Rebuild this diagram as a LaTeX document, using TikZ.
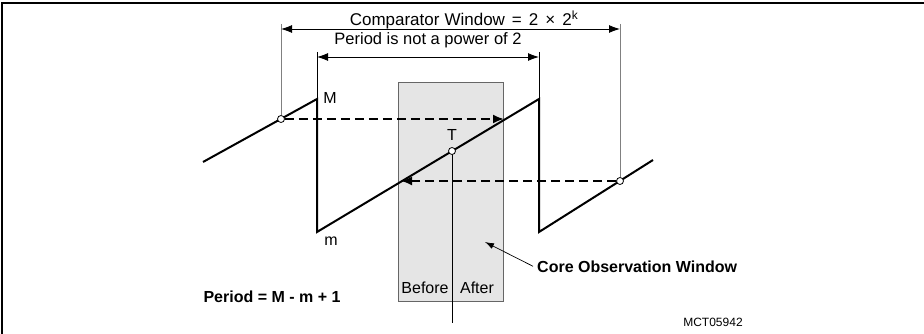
\documentclass[tikz,border=0pt]{standalone}
\usepackage{fontspec}
\setmainfont{Liberation Sans}
\usetikzlibrary{arrows.meta,positioning,calc}

\begin{document}
\begin{tikzpicture}[
    x=1pt, y=-1pt,
    txt/.style={font=\fontsize{16}{19}\selectfont, inner sep=0pt, anchor=base},
    boldtxt/.style={font=\fontsize{16}{19}\selectfont\bfseries, inner sep=0pt, anchor=base},
    saw/.style={line width=2pt, line join=miter},
    dimline/.style={line width=0.9pt, {Latex[length=11pt,width=8pt]}-{Latex[length=11pt,width=8pt]}},
    extline/.style={line width=0.9pt, draw=black!50},
    dasharrow/.style={line width=2pt, dash pattern=on 9pt off 5pt, -{Latex[length=11pt,width=9pt]}},
    probe/.style={circle, draw, fill=white, line width=0.8pt, inner sep=0pt, minimum size=7pt},
    winbox/.style={draw=black!60, fill=black!10, line width=0.9pt}
]
\useasboundingbox (0,0) rectangle (924,334);

% frame
\draw[line width=2pt] (2,334) -- (2,3) -- (924,3);

% core observation window
\draw[winbox] (398,82) rectangle (503,301);

% sawtooth points
\coordinate (s0) at (203,162);
\coordinate (sM) at (317,99);
\coordinate (sm) at (317,232);
\coordinate (s2) at (539,99);
\coordinate (s3) at (539,232);
\coordinate (s4) at (653,160);
\coordinate (tfoot) at (452,323);
\coordinate (hitR) at (504,119);
\coordinate (hitL) at (401,181);

\draw[line width=0.9pt] (452,151) -- (tfoot);
\draw[saw] (s0) -- (sM) -- (sm) -- (s2) -- (s3) -- (s4);

\node[probe] (pL) at (281,119) {};
\node[probe] (pR) at (620,181) {};
\node[probe] (pT) at (452,151) {};

\draw[dasharrow] (pL) -- (hitR);
\draw[dasharrow] (pR) -- (hitL);

% extension lines
\coordinate (cwL) at (281,24);
\coordinate (cwR) at (620,24);
\coordinate (pwL) at (317,52);
\coordinate (pwR) at (539,52);
\draw[extline] (cwL) -- (pL);
\draw[extline] (cwR) -- (pR);
\draw[line width=0.9pt] (pwL) -- (sM);
\draw[line width=0.9pt] (pwR) -- (s2);

% dimensions
\draw[dimline] ($(cwL)+(0,5)$) -- ($(cwR)+(0,5)$);
\draw[dimline] ($(pwL)+(0,5)$) -- ($(pwR)+(0,5)$);

\node[txt, font=\fontsize{17}{20}\selectfont] (cwtxt) at (464,26)
  {Comparator\hspace{5pt}Window\hspace{7pt}=\hspace{7pt}2\hspace{7pt}×\hspace{7pt}2\textsuperscript{k}};
\node[txt, font=\fontsize{16.5}{19}\selectfont] (pwtxt) at (428,45) {Period is not a power of 2};

\node[txt] (lblM) at (330,104) {M};
\node[txt] (lblm) at (331,245) {m};
\node[txt] (lblT) at (452,141) {T};
\node[txt] (before) at (425,293) {Before};
\node[txt] (after) at (477,293) {After};

\node[boldtxt] (period) at (272,302) {Period = M - m + 1};
\node[boldtxt, anchor=base west] (core) at (537,272) {Core Observation Window};
\coordinate (coretip) at (485,242);
\draw[line width=0.7pt, -{Latex[length=9pt,width=6pt]}] ([xshift=-4pt]core.west) -- (coretip);

\node[font=\fontsize{12}{14}\selectfont, inner sep=0pt, anchor=base] (figid) at (713,326) {MCT05942};

\end{tikzpicture}
\end{document}
